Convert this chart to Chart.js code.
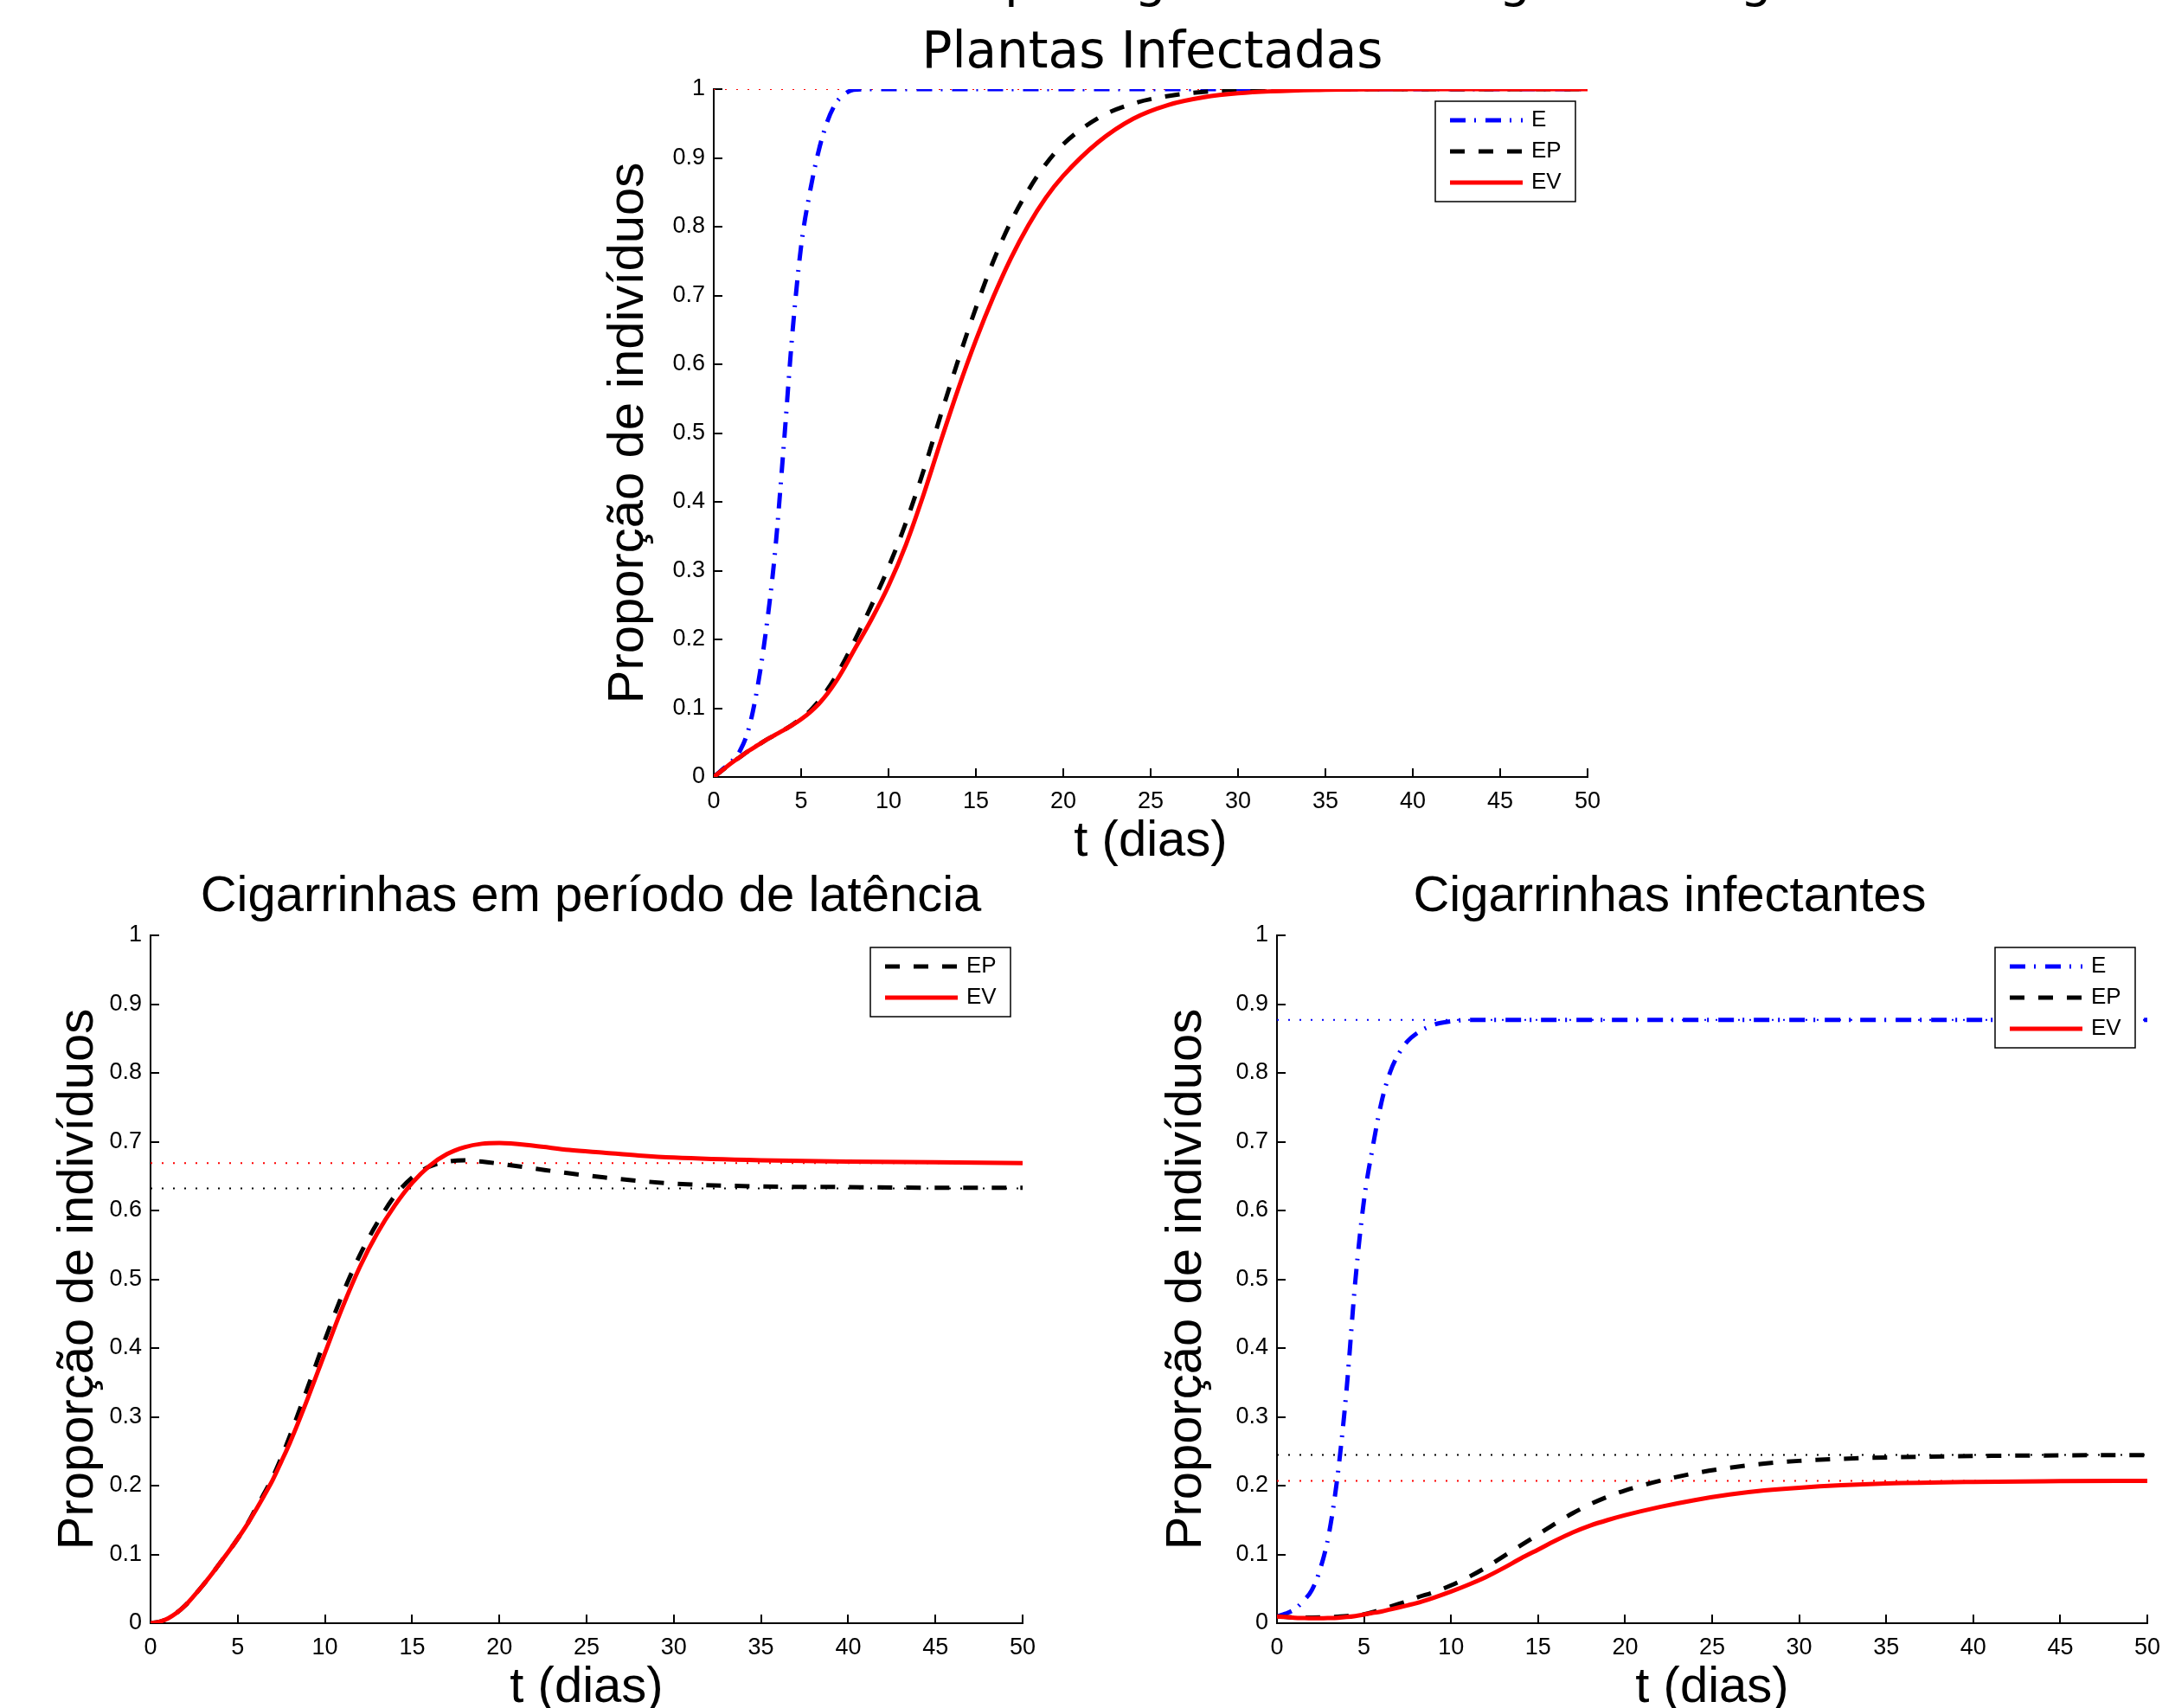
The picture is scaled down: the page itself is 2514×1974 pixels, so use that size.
<!DOCTYPE html>
<html lang="pt-BR">
<head>
<meta charset="utf-8">
<title>Plantas e cigarrinhas infectadas</title>
<script src="https://cdn.jsdelivr.net/npm/chart.js@4.4.1/dist/chart.umd.min.js"></script>
<style>
  html, body { margin: 0; padding: 0; background: #fff; width: 2514px; height: 1974px; overflow: hidden; position: relative; }
  canvas { position: absolute; }
  #supertitulo { position: absolute; left: 500px; top: -53px; font-family: "DejaVu Sans"; font-size: 58px; line-height: 58px; white-space: nowrap; color: #000; }
</style>
</head>
<body>
<div id="supertitulo">Resultados do modelo para gestão estratégica biológica</div>
<canvas id="graficoPlantas" width="1282" height="1002" style="left:691px;top:0px"></canvas>
<canvas id="graficoLatencia" width="1256" height="980" style="left:55px;top:1000px"></canvas>
<canvas id="graficoInfectantes" width="1188" height="980" style="left:1336px;top:1000px"></canvas>
<script>
// tempo (dias) e marcas dos eixos
const tDias  = [0, 0.5, 1, 1.5, 2, 2.5, 3, 3.5, 4, 4.5, 5, 5.5, 6, 6.5, 7, 7.5, 8, 9, 10, 11, 12, 13, 14, 15, 16, 17, 18, 19, 20, 22, 24, 26, 28, 30, 35, 40, 45, 50];
const xTicks = [0, 5, 10, 15, 20, 25, 30, 35, 40, 45, 50];
const yTicks = [0, 0.1, 0.2, 0.3, 0.4, 0.5, 0.6, 0.7, 0.8, 0.9, 1];

// Plantas Infectadas
const plantasE  = [0, 0.011, 0.022, 0.038, 0.07, 0.13, 0.215, 0.325, 0.48, 0.645, 0.772, 0.85, 0.91, 0.953, 0.98, 0.993, 0.999,
                   1, 1, 1, 1, 1, 1, 1, 1, 1, 1, 1, 1, 1, 1, 1, 1, 1, 1, 1, 1, 1];
const plantasEP = [0, 0.01, 0.02, 0.029, 0.038, 0.046, 0.054, 0.061, 0.068, 0.076, 0.085, 0.096, 0.11, 0.127, 0.147, 0.17, 0.195,
                   0.248, 0.305, 0.37, 0.445, 0.527, 0.607, 0.682, 0.75, 0.807, 0.853, 0.891, 0.92, 0.958, 0.979, 0.99, 0.996, 0.999, 1, 1, 1, 1];
const plantasEV = [0, 0.01, 0.02, 0.029, 0.038, 0.046, 0.054, 0.061, 0.068, 0.0755, 0.084, 0.094, 0.106, 0.121, 0.139, 0.16, 0.183,
                   0.228, 0.278, 0.338, 0.41, 0.489, 0.565, 0.635, 0.698, 0.754, 0.802, 0.842, 0.874, 0.923, 0.957, 0.977, 0.988, 0.994, 0.999, 1, 1, 1];
const eqPlantasEV = 1;

// Cigarrinhas em período de latência
const latenciaEP = [0, 0.002, 0.007, 0.015, 0.026, 0.04, 0.055, 0.071, 0.088, 0.105, 0.123, 0.142, 0.165, 0.188, 0.212, 0.241, 0.273,
                    0.342, 0.412, 0.478, 0.535, 0.582, 0.621, 0.648, 0.664, 0.671, 0.673, 0.671, 0.668, 0.661, 0.654, 0.648, 0.643, 0.639, 0.635, 0.634, 0.633, 0.633];
const latenciaEV = [0, 0.002, 0.007, 0.015, 0.026, 0.04, 0.055, 0.071, 0.088, 0.105, 0.123, 0.142, 0.163, 0.185, 0.208, 0.235, 0.263,
                    0.326, 0.393, 0.459, 0.518, 0.567, 0.607, 0.64, 0.665, 0.682, 0.692, 0.697, 0.698, 0.694, 0.688, 0.684, 0.68, 0.677, 0.673, 0.671, 0.67, 0.669];
const eqLatenciaEP = 0.632;
const eqLatenciaEV = 0.669;

// Cigarrinhas infectantes
const infectantesE  = [0.01, 0.014, 0.02, 0.032, 0.048, 0.08, 0.132, 0.218, 0.34, 0.497, 0.615, 0.692, 0.757, 0.801, 0.828, 0.846, 0.857,
                       0.87, 0.875, 0.877, 0.877, 0.877, 0.877, 0.877, 0.877, 0.877, 0.877, 0.877, 0.877, 0.877, 0.877, 0.877, 0.877, 0.877, 0.877, 0.877, 0.877, 0.877];
const infectantesEP = [0.01, 0.009, 0.0085, 0.0083, 0.0083, 0.0085, 0.009, 0.0095, 0.0105, 0.0115, 0.013, 0.016, 0.02, 0.024, 0.028, 0.032, 0.037,
                       0.045, 0.055, 0.067, 0.081, 0.097, 0.113, 0.129, 0.145, 0.16, 0.173, 0.184, 0.193, 0.207, 0.218, 0.226, 0.232, 0.236, 0.241, 0.243, 0.244, 0.2445];
const infectantesEV = [0.0097, 0.009, 0.008, 0.0075, 0.0072, 0.0072, 0.0075, 0.008, 0.009, 0.0105, 0.0126, 0.015, 0.017, 0.02, 0.023, 0.026, 0.029,
                       0.037, 0.046, 0.056, 0.067, 0.08, 0.094, 0.107, 0.12, 0.132, 0.142, 0.15, 0.157, 0.169, 0.179, 0.187, 0.193, 0.197, 0.203, 0.2055, 0.2065, 0.207];
const eqInfectantesE  = 0.877;
const eqInfectantesEP = 0.2445;
const eqInfectantesEV = 0.207;

Chart.defaults.font.family = '"Liberation Sans", Arial, sans-serif';
Chart.defaults.color = '#000';

// estilos das linhas (como no MATLAB: -. , -- , -)
const estilo = {
  E:  { cor: '#0000ff', traco: [18, 10, 2, 11] },
  EP: { cor: '#000000', traco: [17, 16] },
  EV: { cor: '#ff0000', traco: [] }
};

function curva(nome, valores, ordem) {
  return {
    label: nome,
    data: valores,
    borderColor: estilo[nome].cor,
    borderDash: estilo[nome].traco,
    borderWidth: 5,
    borderCapStyle: 'butt',
    pointRadius: 0,
    cubicInterpolationMode: 'monotone',
    fill: false,
    order: ordem
  };
}

// linha pontilhada do equilíbrio
function equilibrio(nome, valor) {
  return {
    label: nome + ' equilíbrio',
    semLegenda: true,
    data: [{ x: tDias[0], y: valor }, { x: tDias[tDias.length - 1], y: valor }],
    borderColor: estilo[nome].cor,
    borderDash: [2, 11],
    borderWidth: 2,
    borderCapStyle: 'butt',
    pointRadius: 0,
    order: 5
  };
}

// legenda com caixa, dentro da área do gráfico (canto superior direito)
const caixaLegenda = {
  id: 'caixaLegenda',
  afterDatasetsDraw(chart) {
    const ctx = chart.ctx;
    const area = chart.chartArea;
    const itens = chart.data.datasets.filter(d => !d.semLegenda);
    const largura = 162, passo = 36;
    const altura = itens.length * passo + 8;
    const x0 = area.right - 14 - largura;
    const y0 = area.top + 14;
    ctx.save();
    ctx.fillStyle = '#fff';
    ctx.fillRect(x0, y0, largura, altura);
    ctx.setLineDash([]);
    ctx.lineWidth = 1.5;
    ctx.strokeStyle = '#000';
    ctx.strokeRect(x0, y0, largura, altura);
    ctx.font = '26px "Liberation Sans"';
    ctx.textBaseline = 'middle';
    itens.forEach(function(d, i) {
      const y = y0 + 22 + i * passo;
      ctx.beginPath();
      ctx.lineCap = 'butt';
      ctx.lineWidth = d.borderWidth;
      ctx.strokeStyle = d.borderColor;
      ctx.setLineDash(d.borderDash);
      ctx.moveTo(x0 + 17, y);
      ctx.lineTo(x0 + 101, y);
      ctx.stroke();
      ctx.setLineDash([]);
      ctx.fillStyle = '#000';
      ctx.fillText(d.label, x0 + 111, y);
    });
    ctx.restore();
  }
};

function eixos(larguraY, larguraDireita) {
  return {
    x: {
      type: 'linear', min: 0, max: 50,
      afterBuildTicks: function(s) { s.ticks = xTicks.map(v => ({ value: v })); },
      afterFit: function(s) { s.height = 104; },
      grid: { drawOnChartArea: false, tickLength: -10, color: '#000', lineWidth: 2 },
      border: { color: '#000', width: 2 },
      ticks: { padding: 25, color: '#000', font: { size: 27, lineHeight: 1 }, maxRotation: 0, autoSkip: false, callback: v => String(v) },
      title: { display: true, text: 't (dias)', color: '#000', font: { size: 58, lineHeight: 1 }, padding: 0 }
    },
    y: {
      type: 'linear', min: 0, max: 1,
      afterBuildTicks: function(s) { s.ticks = yTicks.map(v => ({ value: v })); },
      afterFit: function(s) { s.width = larguraY; },
      grid: { drawOnChartArea: false, tickLength: -10, color: '#000', lineWidth: 2 },
      border: { color: '#000', width: 2 },
      ticks: { padding: 20, color: '#000', font: { size: 27, lineHeight: 1 }, callback: v => String(v) },
      title: { display: true, text: 'Proporção de indivíduos', color: '#000', font: { size: 58, lineHeight: 1 }, padding: { top: 7, bottom: 0 } }
    },
    // eixo vazio à direita, só para deixar o título no lugar certo
    direita: {
      position: 'right', display: true,
      afterFit: function(s) { s.width = larguraDireita; },
      grid: { display: false }, border: { display: false }, ticks: { display: false }
    }
  };
}

function opcoes(titulo, fonteTitulo, padTitulo, larguraY, larguraDireita) {
  return {
    responsive: false,
    animation: false,
    events: [],
    layout: { padding: 0 },
    plugins: {
      legend: { display: false },
      tooltip: { enabled: false },
      title: {
        display: true, text: titulo, color: '#000',
        font: { family: fonteTitulo, size: 58, weight: 'normal', lineHeight: 1 },
        padding: padTitulo
      }
    },
    scales: eixos(larguraY, larguraDireita)
  };
}

new Chart(document.getElementById('graficoPlantas'), {
  type: 'line',
  data: {
    labels: tDias,
    datasets: [
      curva('E', plantasE, 2),
      curva('EP', plantasEP, 1),
      curva('EV', plantasEV, 0),
      equilibrio('EV', eqPlantasEV)
    ]
  },
  options: opcoes('Plantas Infectadas', '"DejaVu Sans"', { top: 34, bottom: 11 }, 134, 138),
  plugins: [caixaLegenda]
});

new Chart(document.getElementById('graficoLatencia'), {
  type: 'line',
  data: {
    labels: tDias,
    datasets: [
      curva('EP', latenciaEP, 1),
      curva('EV', latenciaEV, 0),
      equilibrio('EP', eqLatenciaEP),
      equilibrio('EV', eqLatenciaEV)
    ]
  },
  options: opcoes('Cigarrinhas em período de latência', '"Liberation Sans"', { top: 8, bottom: 15 }, 119, 129),
  plugins: [caixaLegenda]
});

new Chart(document.getElementById('graficoInfectantes'), {
  type: 'line',
  data: {
    labels: tDias,
    datasets: [
      curva('E', infectantesE, 2),
      curva('EP', infectantesEP, 1),
      curva('EV', infectantesEV, 0),
      equilibrio('E', eqInfectantesE),
      equilibrio('EP', eqInfectantesEP),
      equilibrio('EV', eqInfectantesEV)
    ]
  },
  options: opcoes('Cigarrinhas infectantes', '"Liberation Sans"', { top: 8, bottom: 15 }, 140, 42),
  plugins: [caixaLegenda]
});
</script>
</body>
</html>
